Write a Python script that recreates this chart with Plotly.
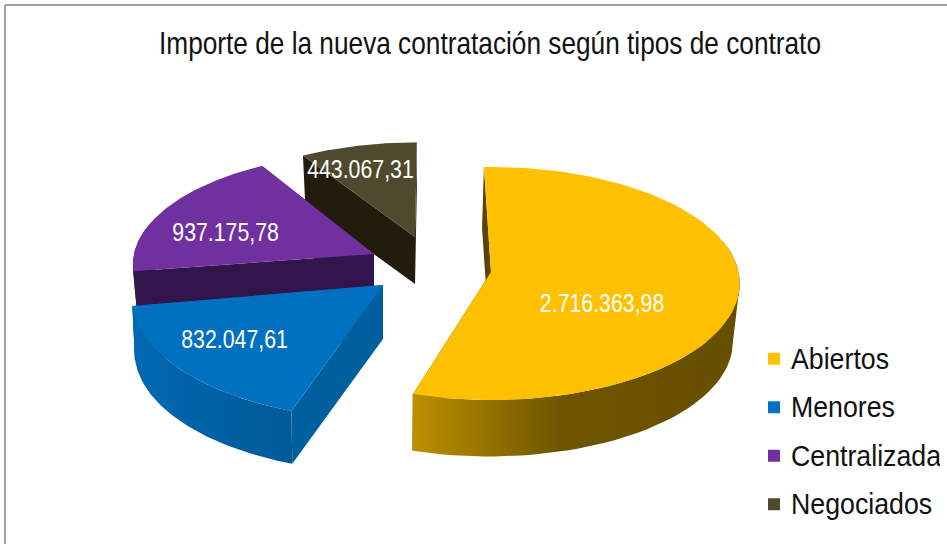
import numpy as np
import plotly.graph_objects as go

# ---- data ----
categories = ["Abiertos", "Menores", "Centralizada", "Negociados"]
values = [2716363.98, 832047.61, 937175.78, 443067.31]
title_text = "Importe de la nueva contratación según tipos de contrato"

# ---- drawing style ----
W, H = 947, 544
FONT = "Liberation Sans"
START_ANGLE = -1.0
RX, RY, PERSP = 250.0, 115.4, 0.0987
face_colors = ["#FFC000", "#0070C0", "#7030A0", "#4F4A2E"]
style = {
    "Abiertos": dict(apex=(491, 272), rot=-0.8, sx=0.99, sy=1.0, dz=(-2, 59), bs=0.98,
                     radial="#5A4500",
                     rim=[[0, "#BD9000"], [0.45, "#6E5500"], [1, "#664E00"]],
                     lab=(0.45, 0, 27)),
    "Menores": dict(apex=(383, 285), rot=2.0, sx=1.0, sy=1.05, dz=(0, 54), bs=0.99,
                    radial="#00609F",
                    rim=[[0, "#0068B2"], [1, "#005A98"]],
                    lab=(0.75, 2, -5)),
    "Centralizada": dict(apex=(374, 254), rot=3.0, sx=0.96, sy=0.96, dz=(0, 52), bs=0.98,
                         radial="#32154A",
                         rim=[[0, "#32154A"], [1, "#32154A"]],
                         lab=(0.7, -1, 13)),
    "Negociados": dict(apex=(415, 237), rot=1.5, sx=0.92, sy=0.9, dz=(0, 47), bs=0.98,
                       radial="#211C0C",
                       rim=[[0, "#211C0C"], [1, "#211C0C"]],
                       lab=(0.75, -11, 5)),
}


def project(theta_deg, r, s):
    t = np.radians(theta_deg)
    x, y = r * np.sin(t), r * np.cos(t)
    w = 1 + PERSP * y
    return s["apex"][0] + s["sx"] * RX * x / w, s["apex"][1] - s["sy"] * RY * y / w


def lower(px, py, s):
    ax, ay = s["apex"]
    return ax + s["dz"][0] + s["bs"] * (px - ax), ay + s["dz"][1] + s["bs"] * (py - ay)


def es(v):
    return f"{v:,.2f}".replace(",", "#").replace(".", ",").replace("#", ".")


total = sum(values)
edges = START_ANGLE + 360 * np.concatenate([[0], np.cumsum(values)]) / total
fig = go.Figure()

# far slices first, so nearer ones overlap them
for i in [3, 2, 1, 0]:
    name, s = categories[i], style[categories[i]]
    a0, a1 = edges[i] + s["rot"], edges[i + 1] + s["rot"]
    th = np.linspace(a0, a1, 90)
    xr, yr = project(th, 1.0, s)
    ax, ay = s["apex"]
    xb, yb = lower(xr, yr, s)
    bax, bay = lower(ax, ay, s)
    common = dict(mode="lines", fill="toself", line=dict(width=0), hoverinfo="skip",
                  showlegend=False)
    # silhouette between the upper and lower rim at the extreme left / right
    if a0 < 90 < a1:
        u, l = np.argmax(xr), np.argmax(xb)
        fig.add_trace(go.Scatter(x=[xr[u], xb[l], bax, xr[u]], y=[yr[u], yb[l], bay, yr[u]],
                                 fillcolor=s["rim"][-1][1], **common))
    if a0 < 255 < a1:
        u, l = np.argmin(xr), np.argmin(xb)
        fig.add_trace(go.Scatter(x=[xr[u], xb[l], bax, xr[u]], y=[yr[u], yb[l], bay, yr[u]],
                                 fillcolor=s["rim"][0][1], **common))
    # radial walls
    for k in (0, -1):
        fig.add_trace(go.Scatter(
            x=[xr[k], ax, bax, xb[k], xr[k]], y=[yr[k], ay, bay, yb[k], yr[k]],
            fillcolor=s["radial"], **common))
    # rim wall, only where it faces the viewer
    vis = np.cos(np.radians(th)) < 0.3
    if vis.sum() > 2:
        xa, ya, xc, yc = xr[vis], yr[vis], xb[vis], yb[vis]
        fig.add_trace(go.Scatter(
            x=np.concatenate([xa, xc[::-1], xa[:1]]), y=np.concatenate([ya, yc[::-1], ya[:1]]),
            fillgradient=dict(type="horizontal", colorscale=s["rim"]), **common))
    # top face
    fig.add_trace(go.Scatter(
        x=np.concatenate([[ax], xr, [ax]]), y=np.concatenate([[ay], yr, [ay]]),
        fillcolor=face_colors[i], **common))

# value labels
for i, name in enumerate(categories):
    s = style[name]
    mid = 0.5 * (edges[i] + edges[i + 1]) + s["rot"]
    lx, ly = project(mid, s["lab"][0], s)
    fig.add_trace(go.Scatter(
        x=[lx + s["lab"][1]], y=[ly + s["lab"][2]], mode="text", text=[es(values[i])],
        textposition="middle center", hoverinfo="skip", showlegend=False,
        textfont=dict(family=FONT, size=26, color="white")))

# legend entries
for i, name in enumerate(categories):
    fig.add_trace(go.Scatter(
        x=[None], y=[None], mode="markers", name=name, legendgroup=name,
        marker=dict(symbol="square", size=17, color=face_colors[i])))

fig.update_layout(
    width=W, height=H, margin=dict(l=0, r=0, t=0, b=0),
    paper_bgcolor="white", plot_bgcolor="white",
    xaxis=dict(range=[0, W], visible=False, fixedrange=True),
    yaxis=dict(range=[H, 0], visible=False, fixedrange=True),
    title=dict(text=title_text, x=490 / W, xanchor="center", y=1 - 43 / H, yanchor="middle",
               font=dict(family=FONT, size=32, color="#111111")),
    legend=dict(x=754 / W, y=1 - 336 / H, xanchor="left", yanchor="top",
                bgcolor="rgba(0,0,0,0)", tracegroupgap=13, itemsizing="constant",
                font=dict(family=FONT, size=25, color="#111111")),
    shapes=[
        dict(type="line", xref="x", yref="y", x0=5, x1=5, y0=5, y1=H, line=dict(color="#868686", width=1.5)),
        dict(type="line", xref="x", yref="y", x0=5, x1=W, y0=5, y1=5, line=dict(color="#868686", width=1.5)),
    ],
)

# The reference text is set in a narrow face: reshape the real text to match it.
narrow_js = """
document.body.style.margin='0';
document.querySelectorAll('svg text').forEach(function(t){
  var leg=t.classList.contains('legendtext');
  var rx=leg?1.07:0.82, ry=leg?1.16:1;
  var x=parseFloat(t.getAttribute('x'))||0, y=parseFloat(t.getAttribute('y'))||0;
  if(leg){x-=3;t.setAttribute('x',x);}
  var old=t.getAttribute('transform')||'';
  t.setAttribute('transform',old+' translate('+x+','+y+') scale('+rx+','+ry+') translate('+(-x)+','+(-y)+')');
});
"""
fig.write_html("out.html", post_script=narrow_js, config=dict(displayModeBar=False))
